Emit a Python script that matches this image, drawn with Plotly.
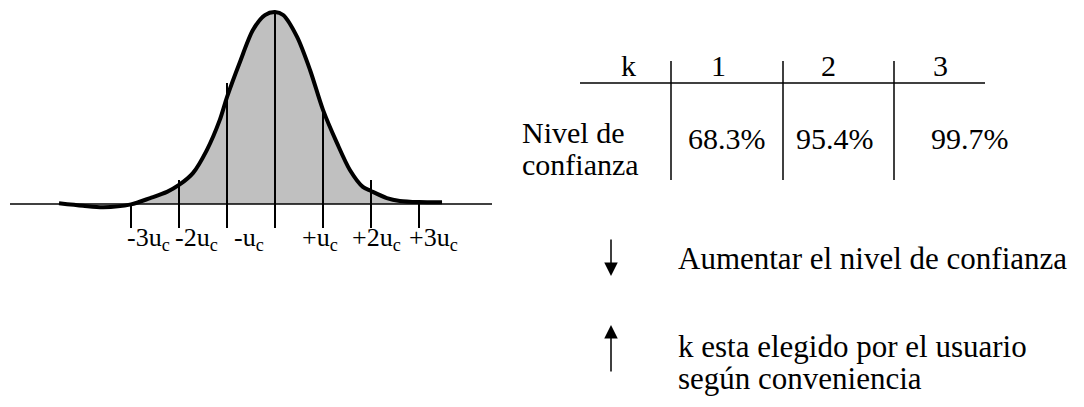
import plotly.graph_objects as go

W, H = 1084, 407

# Bell curve, x in units of u_c, height relative to the peak
curve_x = [-4.5, -4.0, -3.58, -3.0, -2.6, -2.25, -2.0, -1.71, -1.42, -1.15, -1.0,
           -0.73, -0.46, -0.21, 0.0, 0.17, 0.46, 0.73, 1.0, 1.29, 1.56, 1.83, 2.0,
           2.33, 2.6, 3.0, 3.48]
curve_y = [0.004, -0.009, -0.017, -0.002, 0.031, 0.063, 0.099, 0.161, 0.281, 0.438,
           0.557, 0.740, 0.906, 0.984, 1.0, 0.984, 0.870, 0.698, 0.490, 0.318, 0.177,
           0.089, 0.068, 0.031, 0.016, 0.010, 0.009]

# Marker lines at multiples of u_c
tick_k = [-3, -2, -1, 0, 1, 2, 3]
tick_top = [0.0, 0.125, 0.63, 1.0, 0.49, 0.125, 0.0]
tick_bottom = -0.125
tick_labels = ["-3u<sub>c</sub>", "-2u<sub>c</sub>", "-u<sub>c</sub>", "",
               "+u<sub>c</sub>", "+2u<sub>c</sub>", "+3u<sub>c</sub>"]
label_shift = [-0.125, -0.125, 0.10, 0.0, -0.48, -0.44, -0.25]

# Coverage factor table
k_values = ["1", "2", "3"]
confidence = ["68.3%", "95.4%", "99.7%"]
row_label = ["Nivel de", "confianza"]
note_down = ["Aumentar el nivel de confianza"]
note_up = ["k esta elegido por el usuario", "según conveniencia"]

FONT = "Liberation Serif"

# axis mapping: pixel x = 275 + 48*u, pixel y = 204 - 192*h
x_range = [(0 - 275) / 48, (W - 275) / 48]
y_range = [(204 - H) / 192, 204 / 192]


def px(x):
    return x / W


def py(y):
    return 1 - y / H


def font(size):
    return dict(family=FONT, size=size, color="black")


fig = go.Figure()

# shaded area under the curve
start = curve_x.index(-3.0)
fig.add_trace(go.Scatter(
    x=curve_x[start:], y=[max(v, 0) for v in curve_y[start:]],
    mode="lines", line=dict(width=0, shape="spline", color="rgba(0,0,0,0)"),
    fill="tozeroy", fillcolor="#c0c0c0", hoverinfo="skip", showlegend=False))

# horizontal axis
fig.add_trace(go.Scatter(
    x=[(10 - 275) / 48, (492 - 275) / 48], y=[0, 0], mode="lines",
    line=dict(color="black", width=1.5), hoverinfo="skip", showlegend=False))

# vertical marker lines
vx, vy = [], []
for k, top in zip(tick_k, tick_top):
    vx += [k, k, None]
    vy += [tick_bottom, top, None]
fig.add_trace(go.Scatter(
    x=vx, y=vy, mode="lines", line=dict(color="black", width=2),
    hoverinfo="skip", showlegend=False))

# curve outline
fig.add_trace(go.Scatter(
    x=curve_x, y=curve_y, mode="lines",
    line=dict(color="black", width=4, shape="spline", smoothing=0.8),
    hoverinfo="skip", showlegend=False))

annotations = []
for k, lab, dx in zip(tick_k, tick_labels, label_shift):
    if not lab:
        continue
    annotations.append(dict(
        x=k + dx, y=-0.18, xref="x", yref="y", text=lab, showarrow=False,
        xanchor="left", yanchor="middle", font=font(26)))


def text_at(x, y, s, size, anchor="left"):
    annotations.append(dict(x=px(x), y=py(y), xref="paper", yref="paper", text=s,
                            showarrow=False, xanchor=anchor, yanchor="middle",
                            font=font(size)))


# table
shapes = [dict(type="line", xref="paper", yref="paper",
               x0=px(580), x1=px(985), y0=py(83), y1=py(83),
               line=dict(color="black", width=1.5))]
for xv in [671, 783, 894]:
    shapes.append(dict(type="line", xref="paper", yref="paper",
                       x0=px(xv), x1=px(xv), y0=py(61), y1=py(180),
                       line=dict(color="black", width=1.5)))

text_at(628, 65, "k", 30, "center")
for xc, kv in zip([718, 828, 940], k_values):
    text_at(xc, 65, kv, 30, "center")
for xc, cv in zip([727, 835, 970], confidence):
    text_at(xc, 138, cv, 30, "center")
for yc, s in zip([132, 164], row_label):
    text_at(520, yc, s, 30)

# notes
for yc, s in zip([258], note_down):
    text_at(676, yc, s, 31)
for yc, s in zip([346, 378], note_up):
    text_at(676, yc, s, 31)

# arrows
annotations.append(dict(x=px(611), y=py(276), xref="paper", yref="paper", text="",
                        showarrow=True, ax=0, ay=-38, arrowhead=2, arrowsize=1.8,
                        arrowwidth=1.5, arrowcolor="black"))
annotations.append(dict(x=px(611), y=py(325), xref="paper", yref="paper", text="",
                        showarrow=True, ax=0, ay=48, arrowhead=2, arrowsize=1.8,
                        arrowwidth=1.5, arrowcolor="black"))

fig.update_layout(
    width=W, height=H, margin=dict(l=0, r=0, t=0, b=0),
    paper_bgcolor="white", plot_bgcolor="white",
    font=dict(family=FONT),
    xaxis=dict(range=x_range, visible=False, fixedrange=True),
    yaxis=dict(range=y_range, visible=False, fixedrange=True),
    shapes=shapes, annotations=annotations, showlegend=False)

fig.write_html("out.html")
